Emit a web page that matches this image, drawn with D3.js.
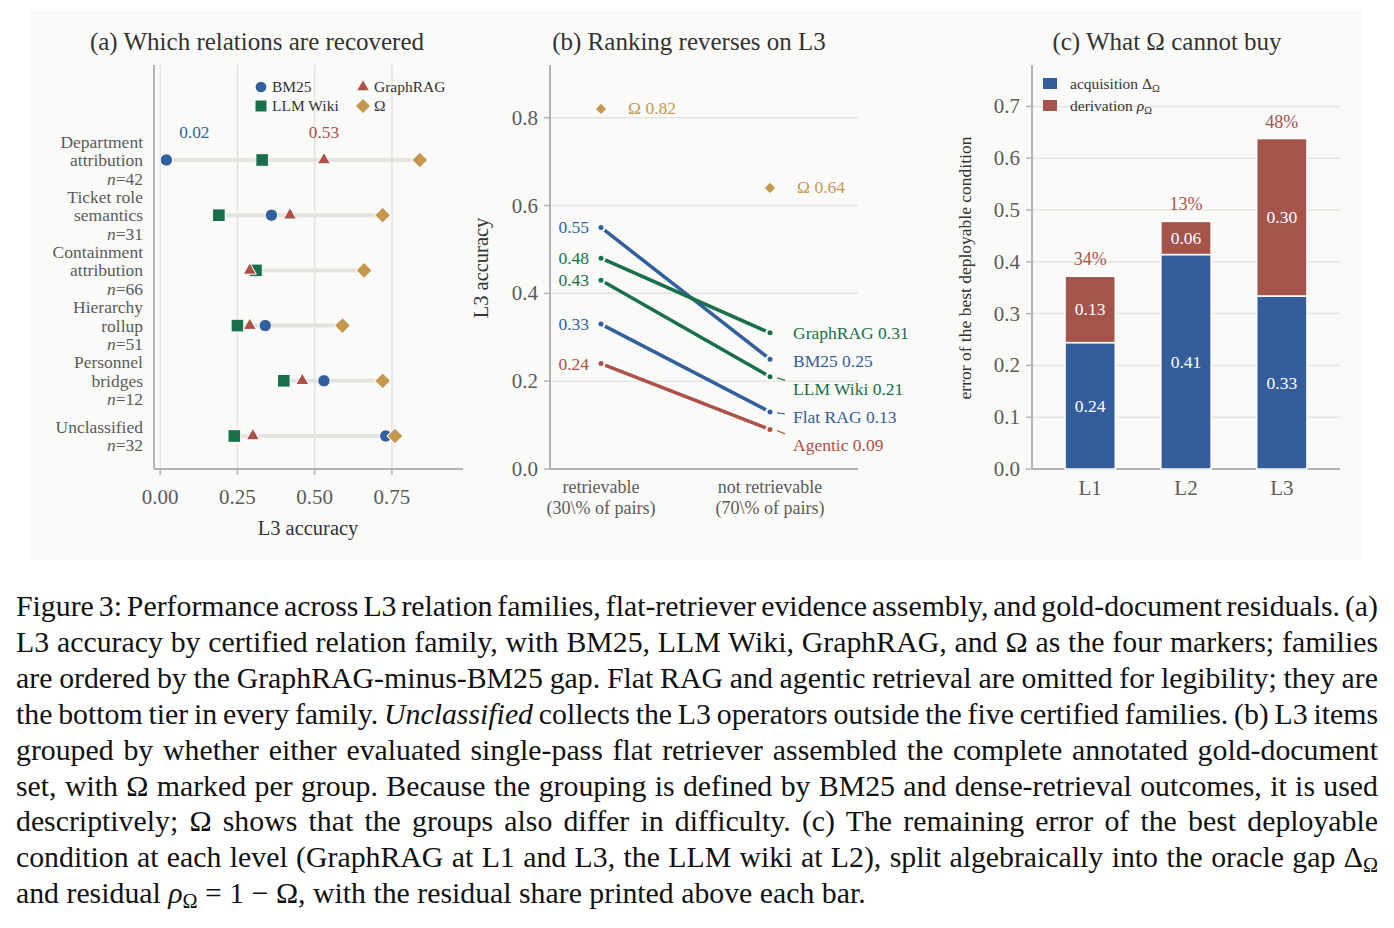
<!DOCTYPE html>
<html>
<head>
<meta charset="utf-8">
<style>
  body { margin: 0; background: #fff; }
  text { font-family: "Liberation Serif", "Times New Roman", serif; }
</style>
</head>
<body>
<script src="https://cdnjs.cloudflare.com/ajax/libs/d3/7.8.5/d3.min.js"></script>
<script>
  // ---- data: panel (a) ----
  const familyLines = [['Department', 'attribution'], ['Ticket role', 'semantics'], ['Containment', 'attribution'],
    ['Hierarchy', 'rollup'], ['Personnel', 'bridges'], ['Unclassified']]
  const familyN = [42, 31, 66, 51, 12, 32]
  const bm25 = [0.02, 0.36, 0.31, 0.34, 0.53, 0.73]
  const llmWiki = [0.33, 0.19, 0.31, 0.25, 0.40, 0.24]
  const graphRag = [0.53, 0.42, 0.29, 0.29, 0.46, 0.30]
  const omega = [0.84, 0.72, 0.66, 0.59, 0.72, 0.76]
  const ticksA = [0, 0.25, 0.5, 0.75]

  // ---- data: panel (b) ----
  const groups = [['retrievable', '(30\\% of pairs)'], ['not retrievable', '(70\\% of pairs)']]
  const slopeNames = ['BM25', 'GraphRAG', 'LLM Wiki', 'Flat RAG', 'Agentic']
  const retrievable = [0.55, 0.48, 0.43, 0.33, 0.24]
  const notRetrievable = [0.25, 0.31, 0.21, 0.13, 0.09]
  const omegaGroup = [0.82, 0.64]
  const ticksB = [0, 0.2, 0.4, 0.6, 0.8]

  // ---- data: panel (c) ----
  const levels = ['L1', 'L2', 'L3']
  const acquisition = [0.244, 0.414, 0.334]
  const derivation = [0.128, 0.064, 0.304]
  const ticksC = [0, 0.1, 0.2, 0.3, 0.4, 0.5, 0.6, 0.7]

  const blue = '#345f9e', green = '#18704a', red = '#ad5047', gold = '#c5984f'
  const barBlue = '#355d9b', barRed = '#a5544b'
  const gridCol = '#e4e4e1', axisCol = '#b3b3b3', tickText = '#5a5a5a'

  const svg = d3.select('body').append('svg')
    .attr('width', 1394).attr('height', 928)

  svg.append('rect').attr('x', 30).attr('y', 10).attr('width', 1332).attr('height', 550)
    .attr('fill', '#fafaf8')

  function title(x, txt) {
    svg.append('text').attr('x', x).attr('y', 50).attr('text-anchor', 'middle')
      .attr('font-size', 25).attr('fill', '#333').text(txt)
  }

  // ================= panel (a) =================
  const xa = d3.scaleLinear().domain([-0.02, 0.98]).range([154, 463])
  const ya = d3.scalePoint().domain(d3.range(familyN.length)).range([160, 436])
  const topA = 65, botA = 469
  title(257, '(a) Which relations are recovered')

  const ga = svg.append('g')
  ga.selectAll('.grid').data(ticksA).enter().append('line')
    .attr('x1', d => xa(d)).attr('x2', d => xa(d)).attr('y1', topA).attr('y2', botA)
    .attr('stroke', gridCol).attr('stroke-width', 1.5)
  ga.append('line').attr('x1', xa.range()[0]).attr('x2', xa.range()[0]).attr('y1', topA).attr('y2', botA)
    .attr('stroke', axisCol).attr('stroke-width', 2)
  ga.append('line').attr('x1', xa.range()[0]).attr('x2', xa.range()[1]).attr('y1', botA).attr('y2', botA)
    .attr('stroke', axisCol).attr('stroke-width', 2)
  ga.selectAll('.tk').data(ticksA).enter().append('line')
    .attr('x1', d => xa(d)).attr('x2', d => xa(d)).attr('y1', botA).attr('y2', botA + 6)
    .attr('stroke', axisCol).attr('stroke-width', 1.5)
  ga.selectAll('.tl').data(ticksA).enter().append('text')
    .attr('x', d => xa(d)).attr('y', 504).attr('text-anchor', 'middle')
    .attr('font-size', 21).attr('fill', tickText).text(d => d3.format('.2f')(d))
  ga.append('text').attr('x', 308).attr('y', 535).attr('text-anchor', 'middle')
    .attr('font-size', 20.5).attr('fill', '#333').text('L3 accuracy')

  // family labels
  familyLines.forEach((lines, i) => {
    const all = lines.concat(['n=' + familyN[i]])
    const lh = 18.5
    const y0 = ya(i) - (all.length - 1) * lh / 2
    all.forEach((ln, j) => {
      const t = ga.append('text').attr('x', 143).attr('y', y0 + j * lh + 6)
        .attr('text-anchor', 'end').attr('font-size', 17.5).attr('fill', '#5a5a5a')
      if (j === all.length - 1) {
        t.append('tspan').attr('font-style', 'italic').text('n')
        t.append('tspan').text('=' + familyN[i])
      } else t.text(ln)
    })
  })

  // range bars
  const rows = familyN.map((n, i) => [bm25[i], llmWiki[i], graphRag[i], omega[i]])
  ga.selectAll('.range').data(rows).enter().append('line')
    .attr('x1', d => xa(d3.min(d))).attr('x2', d => xa(d3.max(d)))
    .attr('y1', (d, i) => ya(i)).attr('y2', (d, i) => ya(i))
    .attr('stroke', '#e3e3df').attr('stroke-width', 4)

  const markers = [
    { name: 'BM25', vals: bm25, color: blue, sym: d3.symbolCircle, size: 120, rot: 0 },
    { name: 'LLM Wiki', vals: llmWiki, color: green, sym: d3.symbolSquare, size: 160, rot: 0 },
    { name: 'GraphRAG', vals: graphRag, color: red, sym: d3.symbolTriangle, size: 75, rot: 0 },
    { name: 'Ω', vals: omega, color: gold, sym: d3.symbolSquare, size: 130, rot: 45 }
  ]
  markers.forEach(m => {
    ga.selectAll(null).data(m.vals).enter().append('path')
      .attr('d', d3.symbol().type(m.sym).size(m.size))
      .attr('transform', (d, i) => `translate(${xa(d)},${ya(i)}) rotate(${m.rot})`)
      .attr('fill', m.color).attr('stroke', '#fff').attr('stroke-width', 1)
  })

  // annotations on first row
  ga.append('text').attr('x', xa(bm25[0]) + 28).attr('y', 138).attr('text-anchor', 'middle')
    .attr('font-size', 17.3).attr('fill', blue).text(bm25[0].toFixed(2))
  ga.append('text').attr('x', xa(graphRag[0])).attr('y', 138).attr('text-anchor', 'middle')
    .attr('font-size', 17.3).attr('fill', red).text(graphRag[0].toFixed(2))

  // legend (a)
  const legA = [
    { m: markers[0], x: 261, y: 87 }, { m: markers[2], x: 363, y: 87 },
    { m: markers[1], x: 261, y: 106 }, { m: markers[3], x: 363, y: 106 }
  ]
  legA.forEach(l => {
    ga.append('path').attr('d', d3.symbol().type(l.m.sym).size(l.m.size * 0.75))
      .attr('transform', `translate(${l.x},${l.y}) rotate(${l.m.rot})`)
      .attr('fill', l.m.color)
    ga.append('text').attr('x', l.x + 11).attr('y', l.y + 5).attr('font-size', 15.5)
      .attr('fill', '#333').text(l.m.name)
  })

  // ================= panel (b) =================
  const xb = d3.scalePoint().domain(d3.range(groups.length)).range([601, 770])
  const yb = d3.scaleLinear().domain([0, 0.92]).range([469, 65])
  const leftB = 550, rightB = 858
  title(689, '(b) Ranking reverses on L3')
  const gb = svg.append('g')
  gb.selectAll('.grid').data(ticksB.slice(1)).enter().append('line')
    .attr('x1', leftB).attr('x2', rightB).attr('y1', d => yb(d)).attr('y2', d => yb(d))
    .attr('stroke', gridCol).attr('stroke-width', 1.5)
  gb.append('line').attr('x1', leftB).attr('x2', leftB).attr('y1', yb.range()[1]).attr('y2', yb.range()[0])
    .attr('stroke', axisCol).attr('stroke-width', 2)
  gb.append('line').attr('x1', leftB).attr('x2', rightB).attr('y1', yb(0)).attr('y2', yb(0))
    .attr('stroke', axisCol).attr('stroke-width', 2)
  gb.selectAll('.tk').data(ticksB).enter().append('line')
    .attr('x1', leftB - 6).attr('x2', leftB).attr('y1', d => yb(d)).attr('y2', d => yb(d))
    .attr('stroke', axisCol).attr('stroke-width', 1.5)
  gb.selectAll('.tl').data(ticksB).enter().append('text')
    .attr('x', leftB - 12).attr('y', d => yb(d) + 7).attr('text-anchor', 'end')
    .attr('font-size', 21).attr('fill', tickText).text(d => d3.format('.1f')(d))
  groups.forEach((g, i) => {
    g.forEach((ln, j) => {
      gb.append('text').attr('x', xb(i)).attr('y', 493 + j * 21).attr('text-anchor', 'middle')
        .attr('font-size', 18).attr('fill', tickText).text(ln)
    })
  })
  gb.append('text').attr('transform', 'translate(488,268) rotate(-90)').attr('text-anchor', 'middle')
    .attr('font-size', 20.5).attr('fill', '#333').text('L3 accuracy')

  const slopeColors = [blue, green, green, blue, red]
  slopeNames.forEach((name, i) => {
    gb.append('line').attr('x1', xb(0)).attr('x2', xb(1))
      .attr('y1', yb(retrievable[i])).attr('y2', yb(notRetrievable[i]))
      .attr('stroke', slopeColors[i]).attr('stroke-width', 3.5)
  })
  slopeNames.forEach((name, i) => {
    [retrievable[i], notRetrievable[i]].forEach((v, k) => {
      gb.append('circle').attr('cx', xb(k)).attr('cy', yb(v)).attr('r', 3.6)
        .attr('fill', slopeColors[i]).attr('stroke', '#fafaf8').attr('stroke-width', 2.2)
    })
    gb.append('text').attr('x', xb(0) - 12).attr('y', yb(retrievable[i]) + 6).attr('text-anchor', 'end')
      .attr('font-size', 17.5).attr('fill', slopeColors[i]).text(retrievable[i].toFixed(2))
  })
  // right-hand labels, pushed apart
  const order = d3.range(slopeNames.length).sort((a, b) => notRetrievable[b] - notRetrievable[a])
  let prev = -Infinity
  order.forEach(i => {
    const yd = yb(notRetrievable[i])
    const ly = Math.max(yd, prev + 28)
    prev = ly
    if (ly - yd > 3) {
      gb.append('line').attr('x1', xb(1) + 7).attr('x2', xb(1) + 15)
        .attr('y1', yd + 1).attr('y2', yd + 1 + (ly - yd) * 0.22)
        .attr('stroke', slopeColors[i]).attr('stroke-width', 1.2)
    }
    gb.append('text').attr('x', xb(1) + 23).attr('y', ly + 6)
      .attr('font-size', 17.5).attr('fill', slopeColors[i])
      .text(slopeNames[i] + ' ' + notRetrievable[i].toFixed(2))
  })
  omegaGroup.forEach((v, k) => {
    gb.append('path').attr('d', d3.symbol().type(d3.symbolSquare).size(52))
      .attr('transform', `translate(${xb(k)},${yb(v)}) rotate(45)`).attr('fill', gold)
    gb.append('text').attr('x', xb(k) + 27).attr('y', yb(v) + 5).attr('font-size', 17.5)
      .attr('fill', gold).text('Ω ' + v.toFixed(2))
  })

  // ================= panel (c) =================
  const xc = d3.scaleBand().domain(levels).range([1032, 1340]).paddingInner(0.476).paddingOuter(0.345)
  const yc = d3.scaleLinear().domain([0, 0.78]).range([469, 65])
  const leftC = 1032, rightC = 1340
  title(1167, '(c) What Ω cannot buy')
  const gc = svg.append('g')
  gc.selectAll('.grid').data(ticksC.slice(1)).enter().append('line')
    .attr('x1', leftC).attr('x2', rightC).attr('y1', d => yc(d)).attr('y2', d => yc(d))
    .attr('stroke', gridCol).attr('stroke-width', 1.5)
  gc.append('line').attr('x1', leftC).attr('x2', leftC).attr('y1', yc.range()[1]).attr('y2', yc.range()[0])
    .attr('stroke', axisCol).attr('stroke-width', 2)
  gc.append('line').attr('x1', leftC).attr('x2', rightC).attr('y1', yc(0)).attr('y2', yc(0))
    .attr('stroke', axisCol).attr('stroke-width', 2)
  gc.selectAll('.tk').data(ticksC).enter().append('line')
    .attr('x1', leftC - 6).attr('x2', leftC).attr('y1', d => yc(d)).attr('y2', d => yc(d))
    .attr('stroke', axisCol).attr('stroke-width', 1.5)
  gc.selectAll('.tl').data(ticksC).enter().append('text')
    .attr('x', leftC - 12).attr('y', d => yc(d) + 7).attr('text-anchor', 'end')
    .attr('font-size', 21).attr('fill', tickText).text(d => d3.format('.1f')(d))
  gc.selectAll('.xl').data(levels).enter().append('text')
    .attr('x', d => xc(d) + xc.bandwidth() / 2).attr('y', 495).attr('text-anchor', 'middle')
    .attr('font-size', 21).attr('fill', tickText).text(d => d)
  gc.append('text').attr('transform', 'translate(971,268) rotate(-90)').attr('text-anchor', 'middle')
    .attr('font-size', 17.5).attr('fill', '#333').text('error of the best deployable condition')

  levels.forEach((lv, i) => {
    const x = xc(lv), w = xc.bandwidth()
    const a = acquisition[i], d = derivation[i]
    gc.append('rect').attr('x', x).attr('width', w).attr('y', yc(a)).attr('height', yc(0) - yc(a))
      .attr('fill', barBlue).attr('stroke', '#fff').attr('stroke-width', 1.5)
    gc.append('rect').attr('x', x).attr('width', w).attr('y', yc(a + d)).attr('height', yc(a) - yc(a + d))
      .attr('fill', barRed).attr('stroke', '#fff').attr('stroke-width', 1.5)
    gc.append('text').attr('x', x + w / 2).attr('y', yc(a / 2) + 6).attr('text-anchor', 'middle')
      .attr('font-size', 17.5).attr('fill', '#fff').text(a.toFixed(2))
    gc.append('text').attr('x', x + w / 2).attr('y', yc(a + d / 2) + 6).attr('text-anchor', 'middle')
      .attr('font-size', 17.5).attr('fill', '#fff').text(d.toFixed(2))
    gc.append('text').attr('x', x + w / 2).attr('y', yc(a + d) - 11).attr('text-anchor', 'middle')
      .attr('font-size', 18).attr('fill', barRed).text(Math.round(100 * d / (a + d)) + '%')
  })
  // legend (c)
  const legC = [{ c: barBlue, y: 84, main: 'acquisition ', sym: 'Δ', it: false },
    { c: barRed, y: 106, main: 'derivation ', sym: 'ρ', it: true }]
  legC.forEach(l => {
    gc.append('rect').attr('x', 1043).attr('y', l.y - 6).attr('width', 14).attr('height', 11).attr('fill', l.c)
    const t = gc.append('text').attr('x', 1070).attr('y', l.y + 5).attr('font-size', 15.5).attr('fill', '#333')
    t.append('tspan').text(l.main)
    t.append('tspan').attr('font-style', l.it ? 'italic' : 'normal').text(l.sym)
    t.append('tspan').attr('font-size', 10.5).attr('dy', 3).text('Ω')
  })

  // ================= caption =================
  const capLines = [
    [['Figure 3: Performance across L3 relation families, flat-retriever evidence assembly, and gold-document residuals. (a)']],
    [['L3 accuracy by certified relation family, with BM25, LLM Wiki, GraphRAG, and Ω as the four markers; families']],
    [['are ordered by the GraphRAG-minus-BM25 gap. Flat RAG and agentic retrieval are omitted for legibility; they are']],
    [['the bottom tier in every family. '], ['Unclassified', 'i'], [' collects the L3 operators outside the five certified families. (b) L3 items']],
    [['grouped by whether either evaluated single-pass flat retriever assembled the complete annotated gold-document']],
    [['set, with Ω marked per group. Because the grouping is defined by BM25 and dense-retrieval outcomes, it is used']],
    [['descriptively; Ω shows that the groups also differ in difficulty. (c) The remaining error of the best deployable']],
    [['condition at each level (GraphRAG at L1 and L3, the LLM wiki at L2), split algebraically into the oracle gap Δ'], ['Ω', 'sub']],
    [['and residual '], ['ρ', 'i'], ['Ω', 'sub'], [' = 1 − Ω, with the residual share printed above each bar.']]
  ]
  const capLeft = 16, capWidth = 1362, capSize = 29.8
  capLines.forEach((segs, i) => {
    const t = svg.append('text').attr('x', capLeft).attr('y', 616 + i * 35.9)
      .attr('font-size', capSize).attr('fill', '#111').style('white-space', 'pre')
    let wasSub = false
    segs.forEach(s => {
      const sp = t.append('tspan').text(s[0])
      if (s[1] === 'i') sp.attr('font-style', 'italic')
      if (s[1] === 'sub') {
        sp.attr('font-size', capSize * 0.68).attr('dy', 5)
        wasSub = true
      } else if (wasSub) {
        sp.attr('dy', -5)
        wasSub = false
      }
    })
    if (i < capLines.length - 1) {
      const txt = segs.map(s => s[0]).join('')
      const spaces = (txt.match(/ /g) || []).length
      const w = t.node().getComputedTextLength()
      t.style('word-spacing', ((capWidth - w) / spaces) + 'px')
    }
  })
</script>
</body>
</html>
